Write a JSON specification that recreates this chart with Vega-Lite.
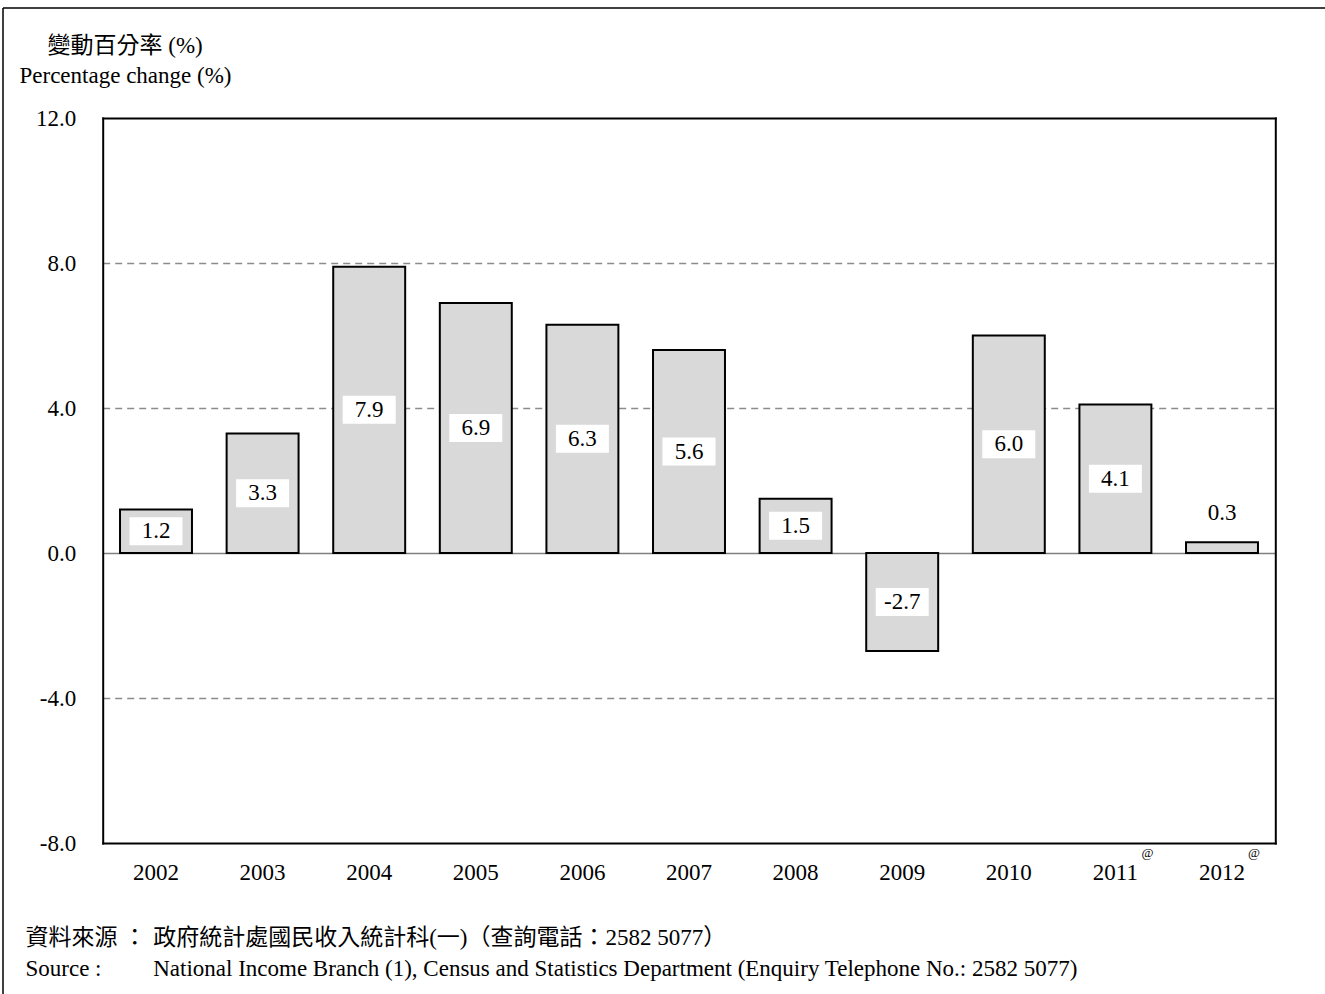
{
  "$schema": "https://vega.github.io/schema/vega-lite/v6.json",
  "width": 1322,
  "height": 986,
  "autosize": "none",
  "padding": {"left": 3, "top": 8, "right": 0, "bottom": 0},
  "background": "white",
  "config": {
    "font": "Liberation Serif, Noto Sans CJK TC",
    "locale": {"number": {"decimal": ".", "thousands": ",", "grouping": [3], "currency": ["$", ""], "minus": "-"}},
    "view": {"stroke": "black", "strokeWidth": 1.5, "strokeDash": [1322, 2308, 986, 0]},
    "axis": {"labelFontSize": 23, "titleFontSize": 23, "labelColor": "black", "titleColor": "black", "titleFontWeight": "normal", "labelFont": "Liberation Serif, Noto Sans CJK TC", "titleFont": "Liberation Serif, Noto Sans CJK TC"}
  },
  "data": {
    "values": [
      {"year": "2002", "value": 1.2, "note": ""},
      {"year": "2003", "value": 3.3, "note": ""},
      {"year": "2004", "value": 7.9, "note": ""},
      {"year": "2005", "value": 6.9, "note": ""},
      {"year": "2006", "value": 6.3, "note": ""},
      {"year": "2007", "value": 5.6, "note": ""},
      {"year": "2008", "value": 1.5, "note": ""},
      {"year": "2009", "value": -2.7, "note": ""},
      {"year": "2010", "value": 6.0, "note": ""},
      {"year": "2011", "value": 4.1, "note": "@"},
      {"year": "2012", "value": 0.3, "note": "@"}
    ]
  },
  "transform": [
    {"calculate": "abs(datum.value) < 1 ? datum.value + 0.8 : datum.value / 2", "as": "labelPos"}
  ],
  "layer": [
    {
      "mark": {"type": "bar", "fill": "#d9d9d9", "stroke": "black", "strokeWidth": 2},
      "encoding": {
        "x": {
          "field": "year", "type": "nominal", "sort": null,
          "scale": {"range": [99.7, 1272.3], "paddingInner": 0.325, "paddingOuter": 0.1625},
          "axis": {
            "orient": "bottom", "offset": -151, "labelAngle": 0, "ticks": false, "tickSize": 0,
            "labelPadding": 36, "labelBaseline": "alphabetic",
            "domainColor": "black", "domainWidth": 2, "domainCap": "square", "grid": false,
            "title": ["資料來源 ：", "Source :"], "titleAngle": 0, "titleAlign": "left",
            "titleBaseline": "alphabetic", "titleX": 22, "titleY": 101, "titleLineHeight": 31
          }
        },
        "y": {
          "field": "value", "type": "quantitative",
          "scale": {"domain": [-8, 12], "range": [835, 110], "nice": false, "zero": false},
          "axis": {
            "orient": "left", "offset": -99.7, "values": [-8, -4, 0, 4, 8, 12], "format": ".1f",
            "ticks": false, "tickSize": 0, "labelPadding": 27,
            "domainColor": "black", "domainWidth": 2, "domainCap": "square",
            "grid": true,
            "gridColor": {"condition": {"test": "datum.value === 0", "value": "#808080"}, "value": "#8c8c8c"},
            "gridDash": {"condition": {"test": "datum.value === 0", "value": []}, "value": [7, 5]},
            "gridOpacity": {"condition": {"test": "datum.value === 12 || datum.value === -8", "value": 0}, "value": 1},
            "gridWidth": 1.3,
            "title": "變動百分率 (%)", "titleAngle": 0, "titleAlign": "left", "titleBaseline": "alphabetic",
            "titleX": -55.7, "titleY": 44
          }
        },
        "y2": {"datum": 0}
      }
    },
    {
      "mark": {"type": "point", "shape": "M-1,-0.53H1V0.53H-1Z", "filled": true, "fill": "white", "opacity": 1, "strokeWidth": 0, "size": 2809},
      "encoding": {
        "x": {
          "field": "year", "type": "nominal", "sort": null,
          "axis": {
            "orient": "top", "offset": -110, "labels": false, "ticks": false, "grid": false,
            "domainColor": "black", "domainWidth": 2, "domainCap": "square",
            "title": "Percentage change (%)", "titleAngle": 0, "titleAlign": "left",
            "titleBaseline": "alphabetic", "titleX": 16, "titleY": -36
          }
        },
        "y": {
          "field": "labelPos", "type": "quantitative",
          "axis": {
            "orient": "right", "offset": -49.7, "labels": false, "ticks": false, "grid": false,
            "domainColor": "black", "domainWidth": 2, "domainCap": "square",
            "title": ["政府統計處國民收入統計科(一)（查詢電話：2582 5077）", "National Income Branch (1), Census and Statistics Department (Enquiry Telephone No.: 2582 5077)"],
            "titleAngle": 0, "titleAlign": "left", "titleBaseline": "alphabetic",
            "titleX": -1122.6, "titleY": 936, "titleLineHeight": 31
          }
        }
      }
    },
    {
      "mark": {"type": "text", "fontSize": 23, "color": "black", "baseline": "middle", "align": "center"},
      "encoding": {
        "x": {"field": "year", "type": "nominal", "sort": null, "axis": null},
        "y": {"field": "labelPos", "type": "quantitative", "axis": null},
        "text": {"field": "value", "type": "quantitative", "format": ".1f"}
      }
    },
    {
      "mark": {"type": "text", "fontSize": 13, "color": "black", "baseline": "middle", "align": "center", "dx": 32, "dy": 10},
      "encoding": {
        "x": {"field": "year", "type": "nominal", "sort": null, "axis": null},
        "y": {"datum": -8, "type": "quantitative", "axis": null},
        "text": {"field": "note", "type": "nominal"}
      }
    }
  ],
  "resolve": {"axis": {"x": "independent", "y": "independent"}}
}
